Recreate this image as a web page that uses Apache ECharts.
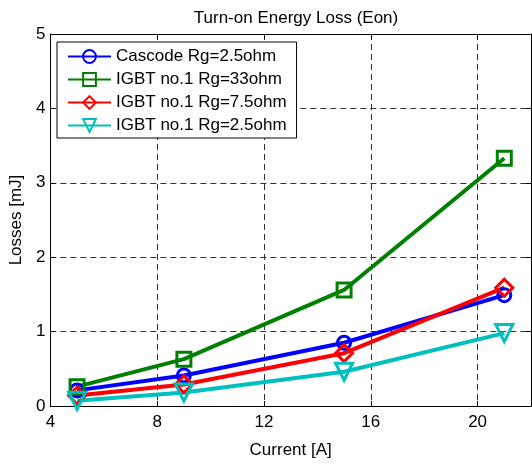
<!DOCTYPE html>
<html><head><meta charset="utf-8">
<script src="https://cdn.jsdelivr.net/npm/echarts@6/dist/echarts.min.js"></script>
<style>html,body{margin:0;padding:0;background:#fff}#c{width:532px;height:464px}</style>
</head><body><div id="c"></div>
<script>
const currents = [5, 9, 15, 21];
const cascode25 = [0.21, 0.41, 0.85, 1.49];
const igbt33 = [0.26, 0.63, 1.56, 3.33];
const igbt75 = [0.14, 0.29, 0.71, 1.59];
const igbt25 = [0.07, 0.18, 0.46, 0.98];
const seriesNames = ['Cascode Rg=2.5ohm', 'IGBT no.1 Rg=33ohm', 'IGBT no.1 Rg=7.5ohm', 'IGBT no.1 Rg=2.5ohm'];
const xTicks = [4, 8, 12, 16, 20];
const yTicks = [0, 1, 2, 3, 4, 5];

const font = 'Liberation Sans, Arial, Helvetica, sans-serif';
const colors = ['#0000ff', '#008000', '#ff0000', '#00bfbf'];
const symbols = ['circle', 'rect', 'diamond', 'triangle'];
const sizes = [13, 14, 17, 17];
const rotates = [0, 0, 0, 180];
const dataSets = [cascode25, igbt33, igbt75, igbt25];

const chart = echarts.init(document.getElementById('c'), null, {renderer: 'canvas'});
const gridLine = {show: true, lineStyle: {color: '#333', type: [6, 4], width: 1}};
const axisCommon = {
  axisLine: {show: true, onZero: false, lineStyle: {color: '#000', width: 1}},
  axisTick: {show: true, inside: true, length: 5, lineStyle: {color: '#000'}},
};
chart.setOption({
  animation: false,
  backgroundColor: '#fff',
  title: {
    text: 'Turn-on Energy Loss (Eon)', left: 291, top: 5, textAlign: 'center',
    textStyle: {fontFamily: font, fontSize: 17, fontWeight: 'normal', color: '#000'}
  },
  grid: {left: 50, right: 1, top: 34, bottom: 49},
  legend: {
    left: 57, top: 42, orient: 'vertical',
    padding: [6, 10, 4, 10], itemGap: 6, itemWidth: 43, itemHeight: 16, itemTextGap: 7,
    borderColor: '#000', borderWidth: 1, backgroundColor: '#fff',
    textStyle: {fontFamily: font, fontSize: 17, color: '#000'},
    data: seriesNames
  },
  xAxis: [
    Object.assign({}, axisCommon, {
      type: 'value', min: 4, max: 22, interval: 4, position: 'bottom',
      name: 'Current [A]', nameLocation: 'middle', nameGap: 36,
      nameTextStyle: {fontFamily: font, fontSize: 17, color: '#000'},
      axisLabel: {fontFamily: font, fontSize: 17, color: '#000', margin: 8,
        showMaxLabel: false,
        formatter: v => xTicks.includes(v) ? String(v) : ''},
      splitLine: gridLine
    }),
    Object.assign({}, axisCommon, {
      type: 'value', min: 4, max: 22, interval: 4, position: 'top',
      axisLabel: {show: false}, splitLine: {show: false}
    })
  ],
  yAxis: [
    Object.assign({}, axisCommon, {
      type: 'value', min: 0, max: 5, interval: 1, position: 'left',
      name: 'Losses [mJ]', nameLocation: 'middle', nameGap: 24,
      nameTextStyle: {fontFamily: font, fontSize: 17, color: '#000'},
      axisLabel: {fontFamily: font, fontSize: 17, color: '#000', margin: 5,
        formatter: v => yTicks.includes(v) ? String(v) : ''},
      splitLine: gridLine
    }),
    Object.assign({}, axisCommon, {
      type: 'value', min: 0, max: 5, interval: 1, position: 'right',
      axisLabel: {show: false}, splitLine: {show: false}
    })
  ],
  series: seriesNames.map((name, i) => ({
    name: name, type: 'line', xAxisIndex: 0, yAxisIndex: 0,
    data: currents.map((x, j) => [x, dataSets[i][j]]),
    symbol: symbols[i], symbolSize: sizes[i], symbolRotate: rotates[i],
    showAllSymbol: true,
    lineStyle: {color: colors[i], width: 4},
    itemStyle: {color: 'rgba(0,0,0,0)', borderColor: colors[i], borderWidth: 3},
    emphasis: {disabled: true}
  }))
});
</script></body></html>
